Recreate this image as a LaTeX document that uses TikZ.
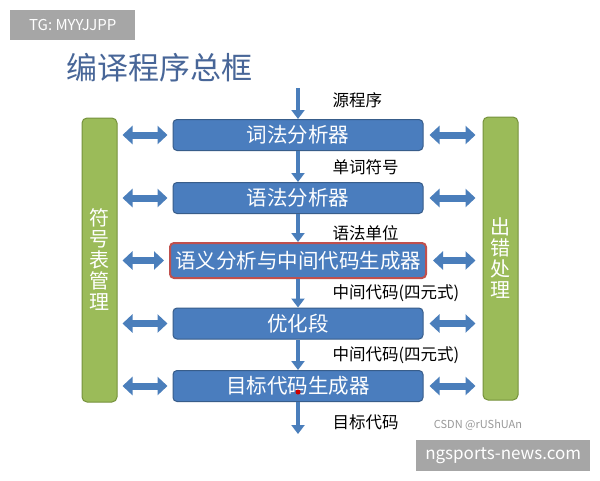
\documentclass[tikz,border=0pt]{standalone}
\usepackage{fontspec}
\setmainfont{Noto Sans CJK SC}
\usetikzlibrary{arrows.meta,positioning,calc}
\definecolor{boxblue}{RGB}{74,125,190}
\definecolor{boxedge}{RGB}{56,93,138}
\definecolor{arrblue}{RGB}{74,126,187}
\definecolor{barfill}{RGB}{155,187,89}
\definecolor{baredge}{RGB}{118,146,60}
\definecolor{titleblue}{RGB}{72,102,152}
\definecolor{markgray}{RGB}{166,166,166}
\definecolor{hilite}{RGB}{192,80,77}

\begin{document}
\begin{tikzpicture}[
    x=1pt,y=-1pt,
    stage/.style={
        draw=boxedge,
        fill=boxblue,
        rounded corners=4pt,
        line width=1pt,
        minimum width=250pt,
        minimum height=31pt,
        inner sep=0pt,
        text=white,
        font=\fontsize{20.5}{20.5}\selectfont
    },
    bar/.style={
        draw=baredge,
        fill=barfill,
        rounded corners=5pt,
        line width=1pt,
        minimum width=35pt,
        text=white,
        align=center,
        font=\fontsize{20}{21}\selectfont
    },
    flow/.style={draw=arrblue, line width=4pt, -{Triangle[length=9pt,width=13pt]}},
    link/.style={draw=arrblue, line width=7pt,
        {Triangle[length=10pt,width=18pt]}-{Triangle[length=10pt,width=18pt]}},
    lbl/.style={anchor=west, text=black, font=\fontsize{16.5}{16.5}\selectfont},
    wbox/.style={fill=markgray, text=white, inner sep=0pt, font=\fontsize{15}{15}\selectfont}
]

% Canvas
\fill[white] (0,0) rectangle (600,480);
\useasboundingbox (0,0) rectangle (600,480);

% Watermarks
\node[wbox, anchor=north west, minimum width=125pt, minimum height=30pt] (tg) at (10,10) {TG: MYYJJPP};
\node[wbox, anchor=north west, minimum width=174pt, minimum height=31pt, font=\fontsize{17}{17}\selectfont] (site) at (416,440) {ngsports-news.com};
\node[text=black!40, font=\fontsize{11}{11}\selectfont] (csdn) at (478,425) {CSDN @rUShUAn};

% Title
\node[anchor=west, text=titleblue, font=\fontsize{31}{31}\selectfont] (title) at (63,68) {编译程序总框};

% Compiler stages
\node[stage] (lex) at (298,135) {词法分析器};
\node[stage] (syn) at (298,198) {语法分析器};
\node[stage, draw=hilite, line width=2pt, minimum width=256pt, minimum height=35pt] (sem) at (298,260.5) {语义分析与中间代码生成器};
\node[stage] (opt) at (298,323.5) {优化段};
\node[stage] (gen) at (298,386) {目标代码生成器};

% Side bars
\node[bar, minimum height=284pt] (symtab) at (99.5,260) {符\\号\\表\\管\\理};
\node[bar, minimum height=283pt] (errs) at (500.5,258.5) {出\\错\\处\\理};

% Flow between stages
\coordinate (src) at (298,88);
\coordinate (out) at (298,434);
\draw[flow] (src) -- (lex.north);
\draw[flow] (lex.south) -- (syn.north);
\draw[flow] (syn.south) -- (sem.north);
\draw[flow] (sem.south) -- (opt.north);
\draw[flow] (opt.south) -- (gen.north);
\draw[flow] (gen.south) -- (out);

% Flow labels
\node[lbl] (l1) at (329,100) {源程序};
\node[lbl] (l2) at (329,167) {单词符号};
\node[lbl] (l3) at (329,233) {语法单位};
\node[lbl] (l4) at (329,293) {中间代码(四元式)};
\node[lbl] (l5) at (329,355) {中间代码(四元式)};
\node[lbl] (l6) at (329,422) {目标代码};

% Links to the side bars
\foreach \s in {lex,syn,sem,opt,gen} {
    \draw[link, shorten <=5pt, shorten >=5pt] (symtab.east |- \s) -- (\s.west);
    \draw[link, shorten <=6pt, shorten >=7pt] (\s.east) -- (errs.west |- \s);
}

% Pointer dot
\fill[red!80!black] (298,392) circle (2.5);

\end{tikzpicture}
\end{document}
